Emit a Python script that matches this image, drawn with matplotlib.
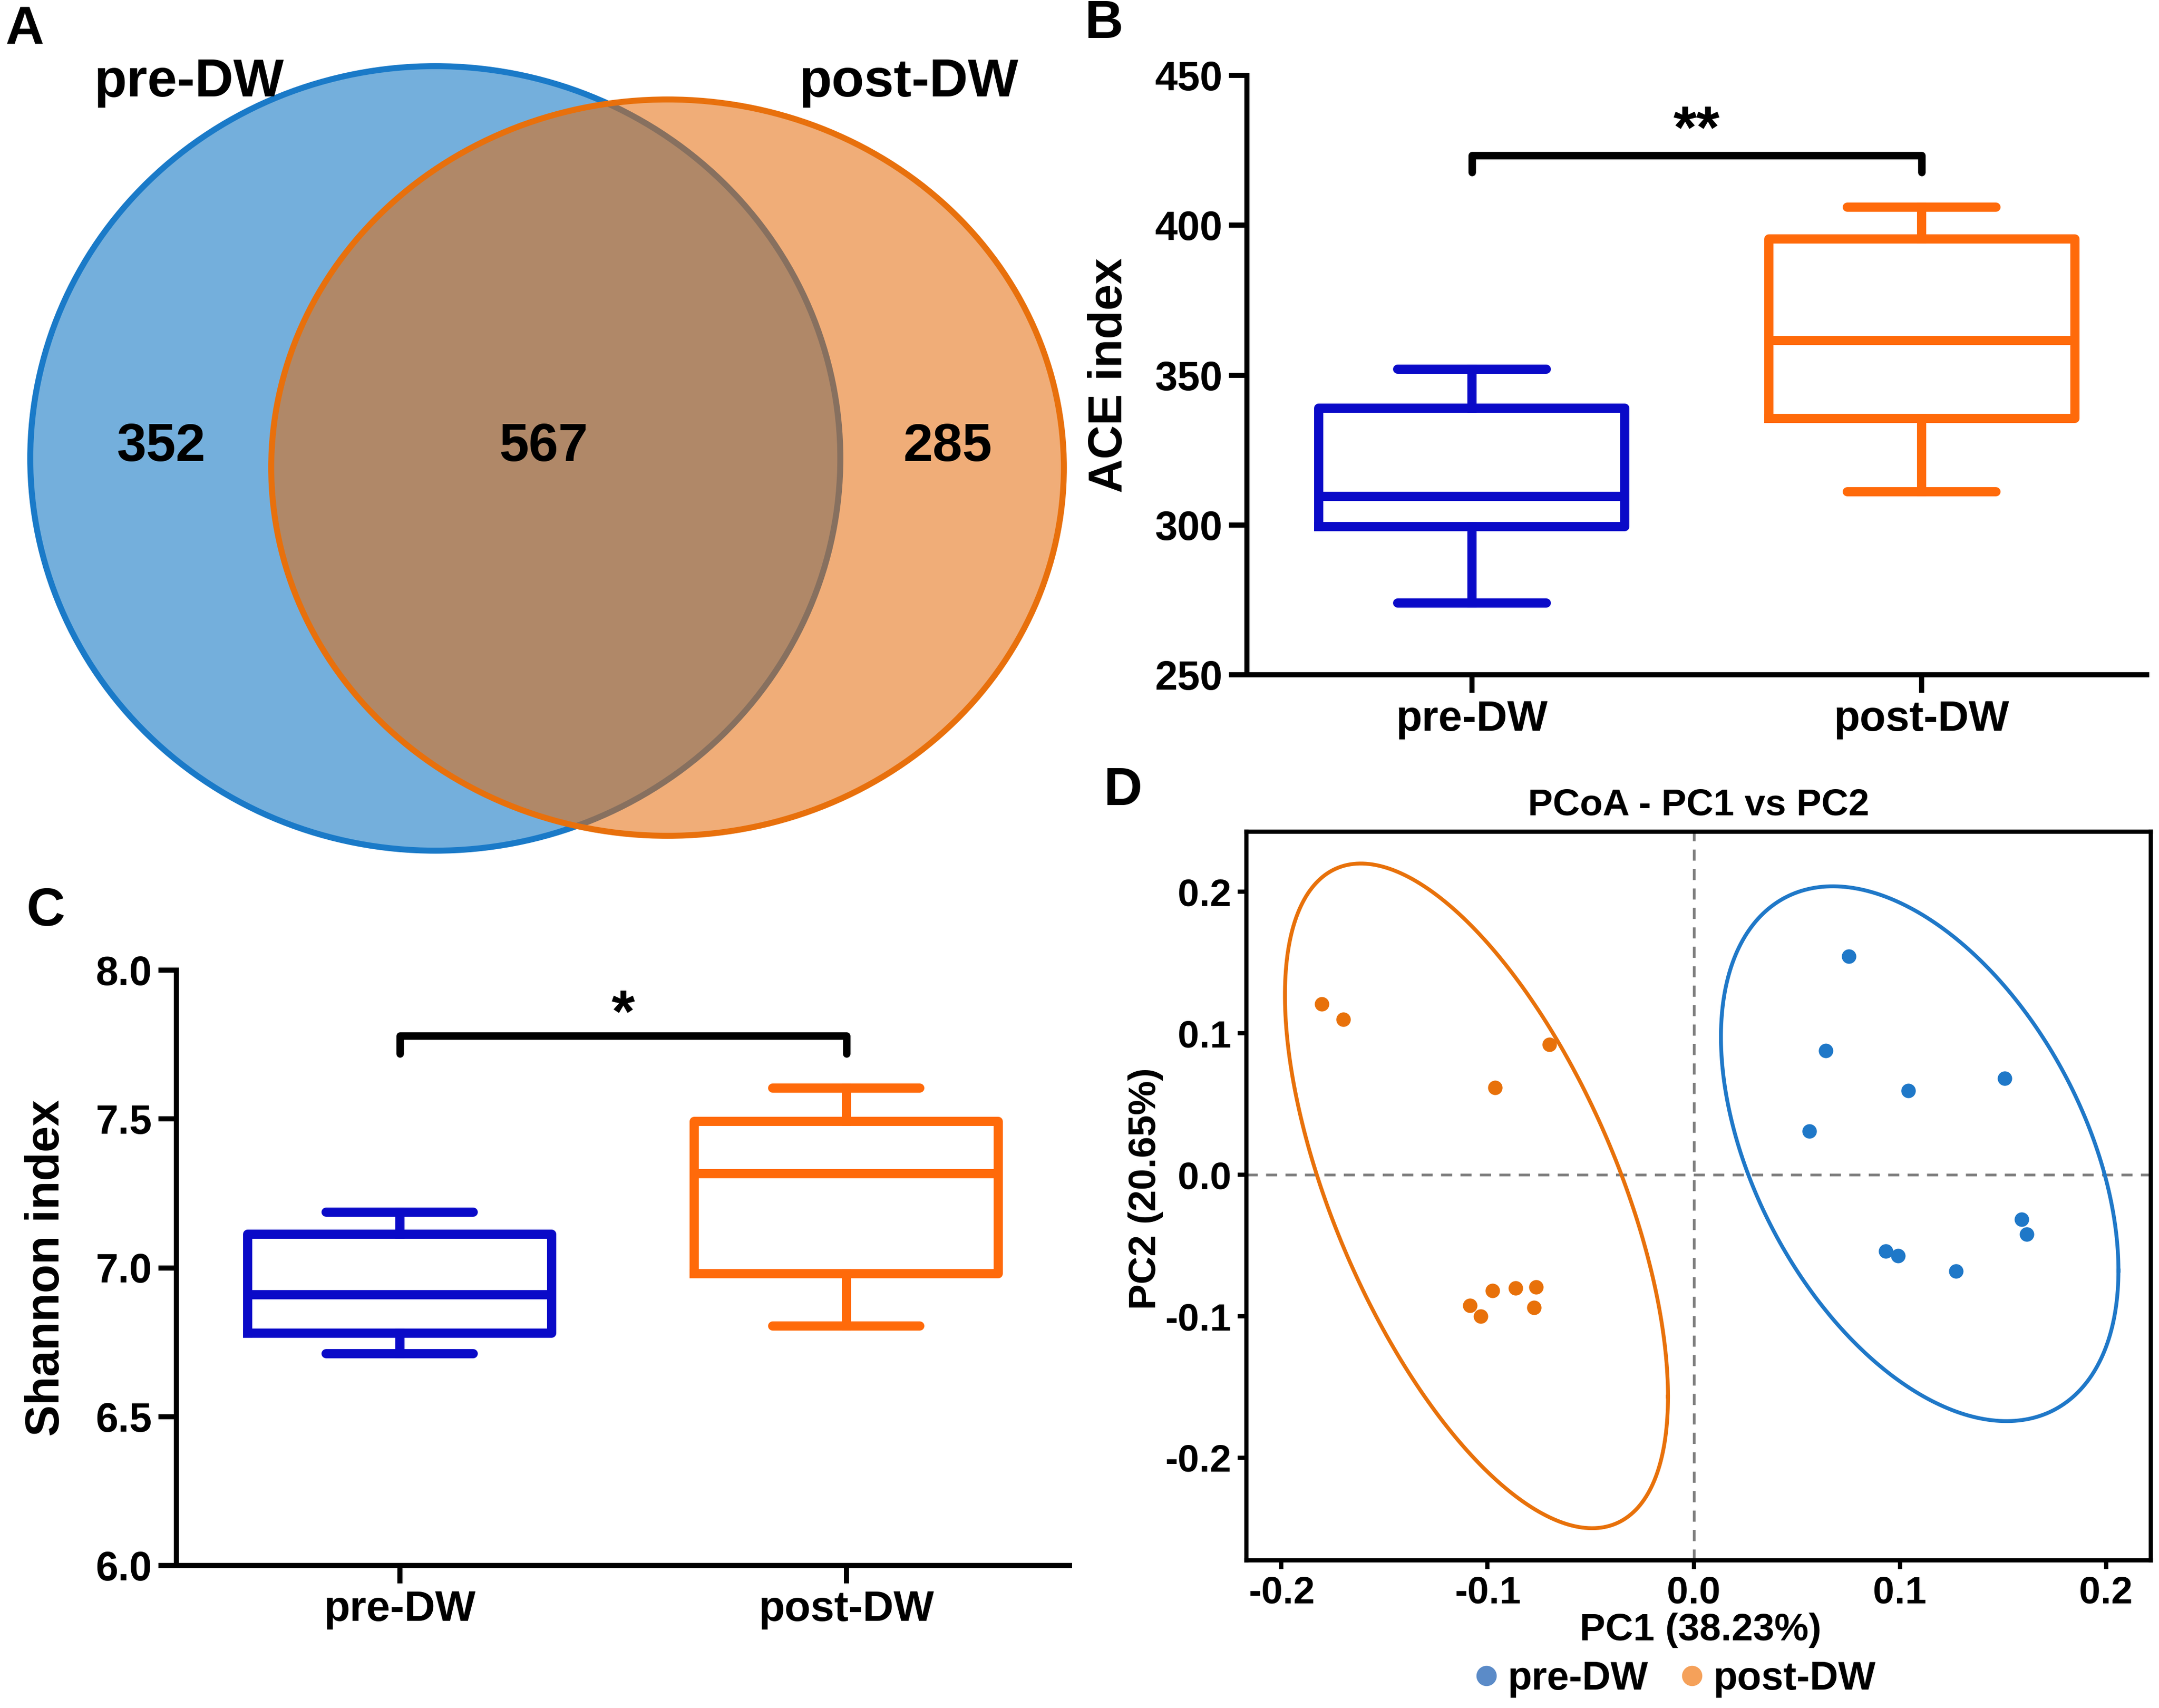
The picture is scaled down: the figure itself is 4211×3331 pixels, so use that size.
import numpy as np
import matplotlib
matplotlib.use('Agg')
import matplotlib.pyplot as plt
from matplotlib.patches import Ellipse
from matplotlib.lines import Line2D

# panel A - venn counts
venn_sets = ['pre-DW', 'post-DW']
venn_counts = [352, 567, 285]  # only pre, shared, only post

# panels B / C - box summaries
groups = ['pre-DW', 'post-DW']
ace_whislo = [274.0, 311.0]
ace_q1 = [299.5, 335.5]
ace_med = [309.5, 361.5]
ace_q3 = [339.0, 395.5]
ace_whishi = [352.0, 406.0]

shannon_whislo = [6.712, 6.804]
shannon_q1 = [6.780, 6.980]
shannon_med = [6.910, 7.316]
shannon_q3 = [7.113, 7.492]
shannon_whishi = [7.187, 7.603]

# panel D - PCoA scores
pre_pc1 = [0.0752, 0.0640, 0.1040, 0.1508, 0.0561, 0.0931, 0.0990, 0.1271, 0.1591, 0.1614]
pre_pc2 = [0.1545, 0.0879, 0.0593, 0.0680, 0.0307, -0.0541, -0.0571, -0.0680, -0.0316, -0.0420]
post_pc1 = [-0.1805, -0.1700, -0.0700, -0.0964, -0.1086, -0.1033, -0.0977, -0.0865, -0.0766, -0.0776]
post_pc2 = [0.1208, 0.1100, 0.0922, 0.0615, -0.0922, -0.1000, -0.0818, -0.0801, -0.0792, -0.0939]

# confidence ellipses: centre x, centre y, sd x, sd y, correlation
pre_ell = [0.1096, 0.0149, 0.0964, 0.1890, -0.437]
post_ell = [-0.1054, -0.0149, 0.0929, 0.2349, -0.604]

plt.rcParams['font.family'] = ['Liberation Sans', 'DejaVu Sans']
plt.rcParams['font.weight'] = 'bold'
plt.rcParams['axes.labelweight'] = 'bold'

W, H = 4211, 3331
fig = plt.figure(figsize=(W / 300, H / 300), dpi=300)


def frac(left, top, right, bottom):
    return [left / W, 1 - bottom / H, (right - left) / W, (bottom - top) / H]


BLUE = '#0a0ac8'
ORANGE = '#ff6a0a'

# ---- A: venn
ax_a = fig.add_axes(frac(0, 0, 2150, 1700))
ax_a.set_xlim(0, 2150)
ax_a.set_ylim(1700, 0)
ax_a.axis('off')
ax_a.add_patch(Ellipse((849, 894), 1580, 1530, facecolor='#74afdc', edgecolor='#1a7ac8', lw=2.8))
ax_a.add_patch(Ellipse((1302, 912), 1546, 1436, facecolor='#e46806', alpha=0.54, edgecolor='none'))
ax_a.add_patch(Ellipse((1302, 912), 1546, 1436, fill=False, edgecolor='#e8700c', lw=2.8))
ax_a.text(368, 161, venn_sets[0], fontsize=25, ha='center', va='center')
ax_a.text(1772, 161, venn_sets[1], fontsize=25, ha='center', va='center')
for x, n in zip([314, 1061, 1848], venn_counts):
    ax_a.text(x, 872, str(n), fontsize=25, ha='center', va='center')


def box_panel(ax, whislo, q1, med, q3, whishi, ylim, yticks, ylabel, label_x, bracket, stars):
    colors = [BLUE, ORANGE]
    for i in range(2):
        st = [dict(whislo=whislo[i], q1=q1[i], med=med[i], q3=q3[i], whishi=whishi[i], fliers=[])]
        c = colors[i]
        ax.bxp(st, positions=[i + 1], widths=0.68, capwidths=0.33, showfliers=False,
               manage_ticks=False,
               boxprops=dict(color=c, lw=4.3),
               whiskerprops=dict(color=c, lw=4.3),
               capprops=dict(color=c, lw=4.3, solid_capstyle='round'),
               medianprops=dict(color=c, lw=4.3))
    ax.set_xlim(0.5, 2.5)
    ax.set_ylim(*ylim)
    ax.set_yticks(yticks)
    ax.set_xticks([1, 2])
    ax.set_xticklabels(groups)
    for s in ['top', 'right']:
        ax.spines[s].set_visible(False)
    for s in ['left', 'bottom']:
        ax.spines[s].set_linewidth(2.4)
    ax.tick_params(length=8.4, width=2.4, labelsize=19, pad=3)
    ax.tick_params(axis='x', labelsize=20)
    ax.set_ylabel(ylabel, fontsize=22)
    ax.yaxis.set_label_coords(label_x, 0.5)
    lo, hi = bracket
    ax.plot([1, 1, 2, 2], [lo, hi, hi, lo], color='k', lw=3.5,
            solid_joinstyle='round', solid_capstyle='round')
    ax.text(1.5, stars[1], stars[0], ha='center', va='center', fontsize=28)


ax_b = fig.add_axes(frac(2432, 147, 4187, 1316))
box_panel(ax_b, ace_whislo, ace_q1, ace_med, ace_q3, ace_whishi,
          (250, 450), [250, 300, 350, 400, 450], 'ACE index', -0.128,
          (417.7, 423.3), ('**', 431.0))

ax_c = fig.add_axes(frac(344, 1892, 2086, 3053))
box_panel(ax_c, shannon_whislo, shannon_q1, shannon_med, shannon_q3, shannon_whishi,
          (6.0, 8.0), [6.0, 6.5, 7.0, 7.5, 8.0], 'Shannon index', -0.1205,
          (7.72, 7.78), ('*', 7.845))
ax_c.set_yticklabels(['6.0', '6.5', '7.0', '7.5', '8.0'])

# ---- D: PCoA
ax_d = fig.add_axes(frac(2431, 1622, 4195, 3043))
ax_d.axvline(0, color='#7f7f7f', lw=1.3, ls=(0, (4, 3)), zorder=1)
ax_d.axhline(0, color='#7f7f7f', lw=1.3, ls=(0, (4, 3)), zorder=1)

t = np.linspace(0, 2 * np.pi, 300)
for (cx, cy, sx, sy, r), c in [(pre_ell, '#1f78c8'), (post_ell, '#e8710a')]:
    ex = cx + sx * np.cos(t)
    ey = cy + sy * (r * np.cos(t) + np.sqrt(1 - r ** 2) * np.sin(t))
    ax_d.plot(ex, ey, color=c, lw=1.8, zorder=2)

ax_d.scatter(pre_pc1, pre_pc2, s=46, color='#1f78c8', zorder=3, linewidths=0)
ax_d.scatter(post_pc1, post_pc2, s=46, color='#e8710a', zorder=3, linewidths=0)

ax_d.set_xlim(-0.217, 0.2217)
ax_d.set_ylim(-0.2725, 0.2425)
ax_d.set_xticks([-0.2, -0.1, 0.0, 0.1, 0.2])
ax_d.set_xticklabels(['-0.2', '-0.1', '0.0', '0.1', '0.2'])
ax_d.set_yticks([-0.2, -0.1, 0.0, 0.1, 0.2])
ax_d.set_yticklabels(['-0.2', '-0.1', '0.0', '0.1', '0.2'])
for s in ax_d.spines.values():
    s.set_linewidth(2.0)
ax_d.tick_params(length=4, width=2.0, labelsize=18, pad=3)
ax_d.set_xlabel('PC1 (38.23%)', fontsize=18)
ax_d.xaxis.set_label_coords(0.502, -0.072)
ax_d.set_ylabel('PC2 (20.65%)', fontsize=18)
ax_d.yaxis.set_label_coords(-0.092, 0.51)
ax_d.text(0.5, 1.036, 'PCoA - PC1 vs PC2', transform=ax_d.transAxes,
          ha='center', va='center', fontsize=17.5)

handles = [Line2D([], [], marker='o', ls='', color='#5b8bc8', ms=8.5),
           Line2D([], [], marker='o', ls='', color='#f5a15a', ms=8.5)]
fig.legend(handles, groups, loc='center', bbox_to_anchor=(0.775, 0.017), ncol=2,
           frameon=False, fontsize=18.5, handletextpad=0.15, columnspacing=0.7,
           handlelength=0.8)

# panel letters
fig.text(48 / W, 1 - 59 / H, 'A', fontsize=25, ha='center', va='center')
fig.text(2154 / W, 1 - 48 / H, 'B', fontsize=25, ha='center', va='center')
fig.text(89 / W, 1 - 1778 / H, 'C', fontsize=25, ha='center', va='center')
fig.text(2191 / W, 1 - 1544 / H, 'D', fontsize=25, ha='center', va='center')

fig.savefig('out.png', dpi=300)
